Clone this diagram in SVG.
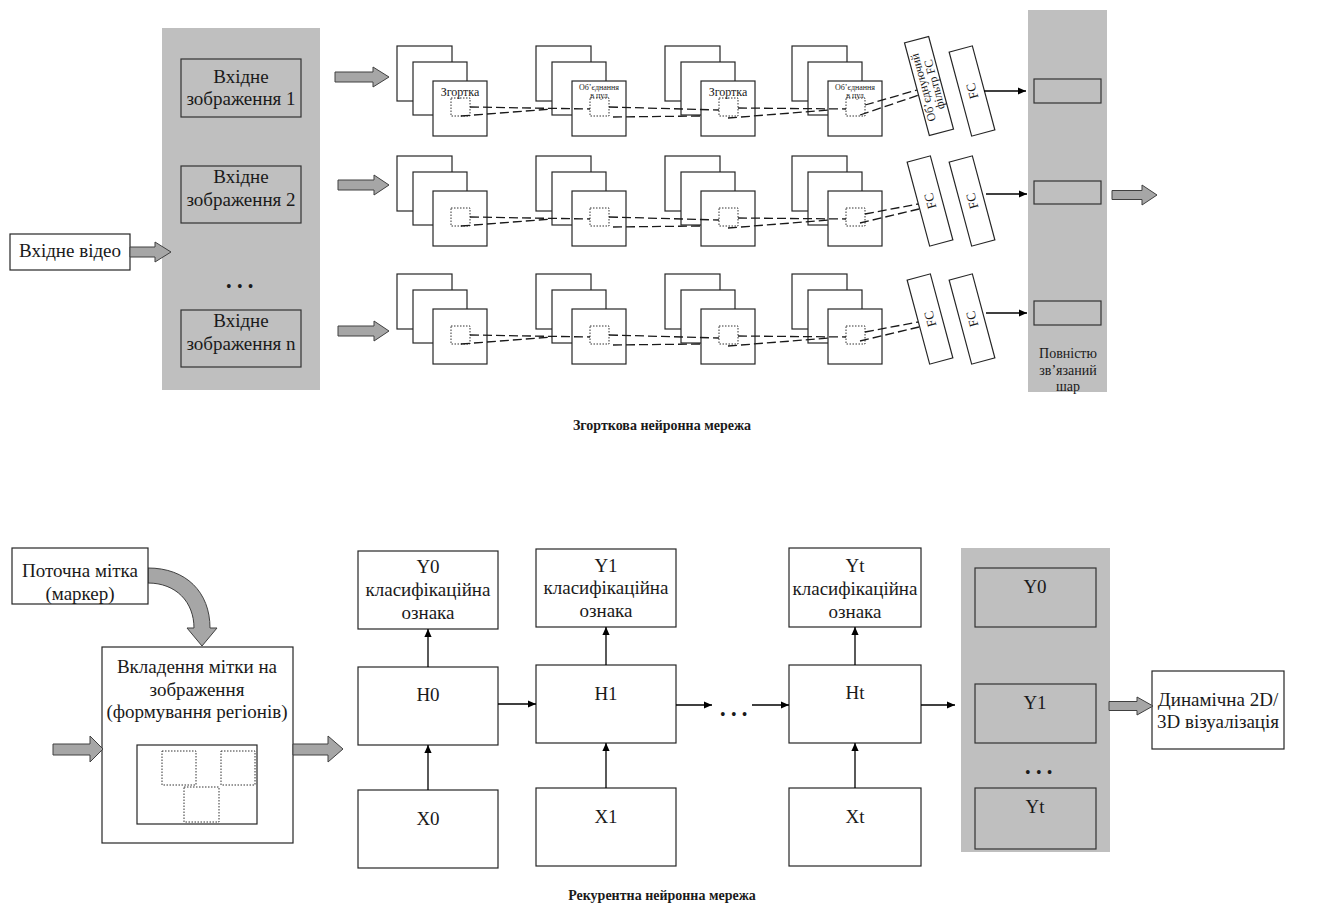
<svg xmlns="http://www.w3.org/2000/svg" width="1324" height="908" viewBox="0 0 1324 908">
<defs>
<style>
.t{font-family:"Liberation Serif","Times New Roman",serif;fill:#1a1a1a;text-anchor:middle}
.f19{font-size:19px}
.f14{font-size:14px}
.f13{font-size:13px}
.f12{font-size:12px}
.f9{font-size:8px}
.cap{font-size:14px;font-weight:bold}
.dots{font-family:"Liberation Serif",serif;font-size:16px;fill:#1a1a1a;letter-spacing:5.3px}
.box{fill:#fff;stroke:#262626;stroke-width:1.2}
.gbox{fill:#bfbfbf;stroke:#333;stroke-width:1.2}
.panel{fill:#bfbfbf}
.barrow{fill:#a6a6a6;stroke:#404040;stroke-width:1}
.sq{fill:#fff;stroke:#262626;stroke-width:1.2}
.dot{fill:none;stroke:#333;stroke-width:1;stroke-dasharray:1.5 1.5}
.dash{fill:none;stroke:#1a1a1a;stroke-width:1.3;stroke-dasharray:9 4}
.ln{fill:none;stroke:#000;stroke-width:1.3;marker-end:url(#ah)}
</style>
<marker id="ah" viewBox="0 0 10 10" refX="10" refY="5" markerWidth="9" markerHeight="8" markerUnits="userSpaceOnUse" orient="auto">
<path d="M0,0.5 L10,5 L0,9.5 z" fill="#000"/>
</marker>
<!-- three stacked feature maps with a dotted receptive field -->
<g id="stack">
<rect class="sq" x="0" y="0" width="55" height="55"/>
<rect class="sq" x="16" y="16" width="54" height="53"/>
<rect class="sq" x="36" y="35" width="54" height="55"/>
<rect class="dot" x="54" y="52" width="19" height="18"/>
</g>
</defs>
<rect width="1324" height="908" fill="#fff"/>

<!-- ============ CNN part ============ -->
<g id="input-panel">
<rect class="panel" x="162" y="28" width="158" height="362"/>
</g>
<g id="img1">
<rect class="gbox" x="181" y="59" width="120" height="58"/>
<text class="t f19" x="241" y="83">Вхідне</text>
<text class="t f19" x="241" y="105">зображення 1</text>
</g>
<g id="img2">
<rect class="gbox" x="181" y="166" width="120" height="57"/>
<text class="t f19" x="241" y="183">Вхідне</text>
<text class="t f19" x="241" y="206">зображення 2</text>
</g>
<text class="dots" x="226" y="292">•••</text>
<g id="imgn">
<rect class="gbox" x="181" y="310" width="120" height="57"/>
<text class="t f19" x="241" y="327">Вхідне</text>
<text class="t f19" x="241" y="350">зображення n</text>
</g>
<g id="video">
<rect class="box" x="10" y="234" width="120" height="36"/>
<text class="t f19" x="70" y="257">Вхідне відео</text>
</g>

<!-- feature map stacks, three rows x four stages -->
<g id="r1s1"><use href="#stack" transform="translate(397,46)"/><text class="t f12" x="460" y="96">Згортка</text></g>
<g id="r1s2"><use href="#stack" transform="translate(536,46)"/><text class="t f9" x="599" y="90">Об’єднання</text><text class="t f9" x="599" y="98">в пул</text></g>
<g id="r1s3"><use href="#stack" transform="translate(665,46)"/><text class="t f12" x="728" y="96">Згортка</text></g>
<g id="r1s4"><use href="#stack" transform="translate(792,46)"/><text class="t f9" x="855" y="90">Об’єднання</text><text class="t f9" x="855" y="98">в пул</text></g>

<g id="r2s1"><use href="#stack" transform="translate(397,156)"/></g>
<g id="r2s2"><use href="#stack" transform="translate(536,156)"/></g>
<g id="r2s3"><use href="#stack" transform="translate(665,156)"/></g>
<g id="r2s4"><use href="#stack" transform="translate(792,156)"/></g>

<g id="r3s1"><use href="#stack" transform="translate(397,274)"/></g>
<g id="r3s2"><use href="#stack" transform="translate(536,274)"/></g>
<g id="r3s3"><use href="#stack" transform="translate(665,274)"/></g>
<g id="r3s4"><use href="#stack" transform="translate(792,274)"/></g>

<!-- tilted fully connected blocks -->
<g id="r1fc1" transform="translate(929,86) rotate(-15)">
<rect class="sq" x="-12.5" y="-48" width="25" height="96"/>
<text class="t f12" transform="rotate(-90)" x="0" y="-2">Об’єднуючий</text>
<text class="t f12" transform="rotate(-90)" x="0" y="9.5">фільтр FC</text>
</g>
<g id="r1fc2" transform="translate(972,91) rotate(-15)">
<rect class="sq" x="-12" y="-43.5" width="24" height="87"/>
<text class="t f13" transform="rotate(-90)" x="0" y="4.5">FC</text>
</g>
<g id="r2fc1" transform="translate(930,201) rotate(-15)">
<rect class="sq" x="-12" y="-43.5" width="24" height="87"/>
<text class="t f13" transform="rotate(-90)" x="0" y="4.5">FC</text>
</g>
<g id="r2fc2" transform="translate(972,201) rotate(-15)">
<rect class="sq" x="-12" y="-43.5" width="24" height="87"/>
<text class="t f13" transform="rotate(-90)" x="0" y="4.5">FC</text>
</g>
<g id="r3fc1" transform="translate(930,319) rotate(-15)">
<rect class="sq" x="-12" y="-43.5" width="24" height="87"/>
<text class="t f13" transform="rotate(-90)" x="0" y="4.5">FC</text>
</g>
<g id="r3fc2" transform="translate(972,319) rotate(-15)">
<rect class="sq" x="-12" y="-43.5" width="24" height="87"/>
<text class="t f13" transform="rotate(-90)" x="0" y="4.5">FC</text>
</g>

<g id="fc-panel">
<rect class="panel" x="1028" y="10" width="79" height="382"/>
<rect class="gbox" x="1034" y="79" width="67" height="24"/>
<rect class="gbox" x="1034" y="181" width="67" height="23"/>
<rect class="gbox" x="1034" y="301" width="67" height="24"/>
<text class="t f14" x="1068" y="358">Повністю</text>
<text class="t f14" x="1068" y="375">зв’язаний</text>
<text class="t f14" x="1068" y="391">шар</text>
</g>

<text class="t cap" x="662" y="430">Згорткова нейронна мережа</text>

<!-- ============ RNN part ============ -->
<g id="marker-node">
<path class="barrow" d="M148,568 C186,568 210,592 210,628 L217,628 L202,646 L187,628 L194,628 C194,602 176,583 148,583 Z"/>
<rect class="box" x="12" y="548" width="136" height="56"/>
<text class="t f19" x="80" y="577">Поточна мітка</text>
<text class="t f19" x="80" y="600">(маркер)</text>
</g>
<g id="embed">
<rect class="box" x="102" y="647" width="191" height="196"/>
<text class="t f19" x="197" y="673">Вкладення мітки на</text>
<text class="t f19" x="197" y="696">зображення</text>
<text class="t f19" x="197" y="718">(формування регіонів)</text>
<rect class="box" x="137" y="745" width="120" height="79"/>
<rect class="dot" x="162" y="751" width="34" height="34"/>
<rect class="dot" x="221" y="751" width="34" height="34"/>
<rect class="dot" x="184" y="787" width="35" height="35"/>
</g>

<g id="y0"><rect class="box" x="358" y="551" width="140" height="78"/>
<text class="t f19" x="428" y="573">Y0</text><text class="t f19" x="428" y="596">класифікаційна</text><text class="t f19" x="428" y="619">ознака</text></g>
<g id="h0"><rect class="box" x="358" y="667" width="140" height="78"/><text class="t f19" x="428" y="701">H0</text></g>
<g id="x0"><rect class="box" x="358" y="790" width="140" height="78"/><text class="t f19" x="428" y="825">X0</text></g>

<g id="y1"><rect class="box" x="536" y="549" width="140" height="78"/>
<text class="t f19" x="606" y="572">Y1</text><text class="t f19" x="606" y="594">класифікаційна</text><text class="t f19" x="606" y="617">ознака</text></g>
<g id="h1"><rect class="box" x="536" y="665" width="140" height="78"/><text class="t f19" x="606" y="700">H1</text></g>
<g id="x1"><rect class="box" x="536" y="788" width="140" height="78"/><text class="t f19" x="606" y="823">X1</text></g>

<text class="dots" x="720" y="720">•••</text>

<g id="yt"><rect class="box" x="789" y="548" width="132" height="79"/>
<text class="t f19" x="855" y="572">Yt</text><text class="t f19" x="855" y="595">класифікаційна</text><text class="t f19" x="855" y="618">ознака</text></g>
<g id="ht"><rect class="box" x="789" y="665" width="132" height="78"/><text class="t f19" x="855" y="699">Ht</text></g>
<g id="xt"><rect class="box" x="789" y="788" width="132" height="78"/><text class="t f19" x="855" y="823">Xt</text></g>

<g id="out-panel">
<rect class="panel" x="961" y="548" width="149" height="304"/>
<rect class="gbox" x="975" y="568" width="121" height="59"/>
<text class="t f19" x="1035" y="593">Y0</text>
<rect class="gbox" x="975" y="684" width="121" height="59"/>
<text class="t f19" x="1035" y="709">Y1</text>
<text class="dots" x="1025" y="778">•••</text>
<rect class="gbox" x="975" y="788" width="121" height="61"/>
<text class="t f19" x="1035" y="813">Yt</text>
</g>

<g id="visual">
<rect class="box" x="1152" y="671" width="132" height="78"/>
<text class="t f19" x="1218" y="706">Динамічна 2D/</text>
<text class="t f19" x="1218" y="728">3D візуалізація</text>
</g>

<text class="t cap" x="662" y="900">Рекурентна нейронна мережа</text>

<!-- ============ connectors ============ -->
<g id="connectors">
<!-- block arrows -->
<polygon class="barrow" points="130,247 155,247 155,242 171,252 155,262 155,257 130,257"/>
<polygon class="barrow" points="335,72 373,72 373,67 389,77 373,87 373,82 335,82"/>
<polygon class="barrow" points="338,180 374,180 374,175 389,185 374,195 374,190 338,190"/>
<polygon class="barrow" points="338,326 374,326 374,321 389,331 374,341 374,336 338,336"/>
<polygon class="barrow" points="1112,190.5 1142,190.5 1142,185 1157,195 1142,205 1142,199.5 1112,199.5"/>
<polygon class="barrow" points="53,744 90,744 90,736 103,749 90,762 90,755 53,755"/>
<polygon class="barrow" points="293,744 328,744 328,736 343,749 328,762 328,755 293,755"/>
<polygon class="barrow" points="1109,701.5 1137,701.5 1137,697 1153,706 1137,715 1137,710.5 1109,710.5"/>

<!-- receptive field tracks, row 1 -->
<path class="dash" d="M470,107 L590,109 M461,116 L552,109 M609,107 L719,110 M613,117 L700,116 M738,108 L846,109 M728,118 L830,110 M865,105 L917,90 M860,115 L919,95"/>
<!-- row 2 -->
<path class="dash" d="M470,217 L590,219 M461,226 L552,219 M609,217 L719,220 M613,227 L700,226 M738,218 L846,219 M728,228 L830,220 M865,214 L918,204 M860,223 L919,209"/>
<!-- row 3 -->
<path class="dash" d="M470,335 L590,337 M461,344 L552,337 M609,335 L719,338 M613,345 L700,344 M738,336 L846,337 M728,346 L830,338 M865,332 L918,322 M860,341 L919,327"/>

<!-- FC to fully connected layer -->
<line class="ln" x1="984" y1="91" x2="1026" y2="91"/>
<line class="ln" x1="986" y1="194" x2="1027" y2="194"/>
<line class="ln" x1="986" y1="313" x2="1027" y2="313"/>

<!-- recurrent links -->
<line class="ln" x1="428" y1="667" x2="428" y2="629"/>
<line class="ln" x1="428" y1="790" x2="428" y2="745"/>
<line class="ln" x1="606" y1="665" x2="606" y2="627"/>
<line class="ln" x1="606" y1="788" x2="606" y2="743"/>
<line class="ln" x1="855" y1="665" x2="855" y2="627"/>
<line class="ln" x1="855" y1="788" x2="855" y2="743"/>
<line class="ln" x1="498" y1="704" x2="536" y2="704"/>
<line class="ln" x1="676" y1="705" x2="712" y2="705"/>
<line class="ln" x1="752" y1="705" x2="789" y2="705"/>
<line class="ln" x1="921" y1="705" x2="955" y2="705"/>
</g>
</svg>
